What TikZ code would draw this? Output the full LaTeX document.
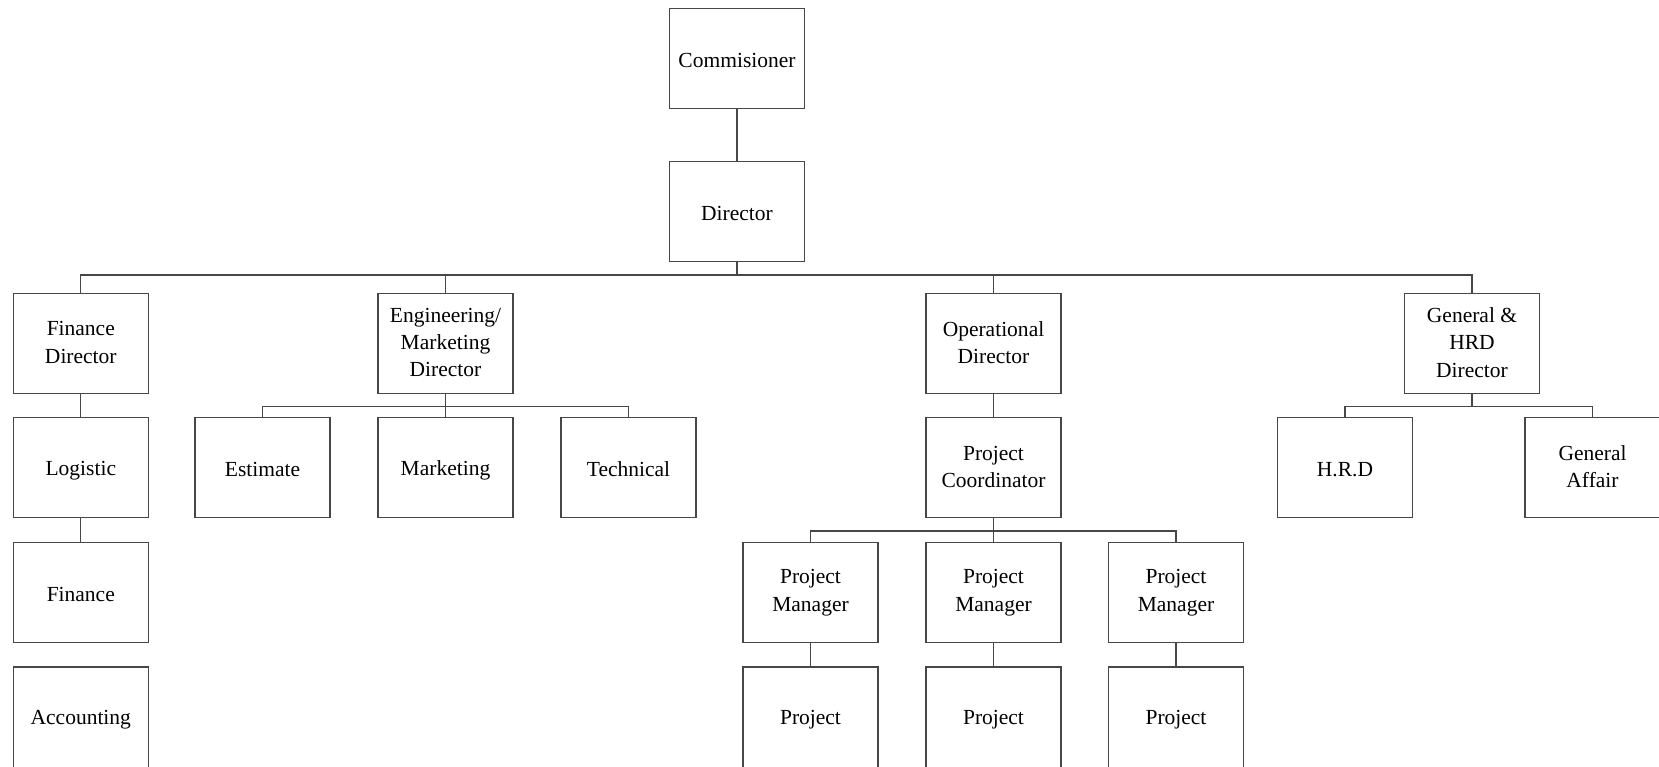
\documentclass[tikz,border=0pt]{standalone}
\usepackage{fontspec}
\setmainfont{Liberation Serif}
\begin{document}
\begin{tikzpicture}[x=1pt,y=-1pt,
  lbl/.style={inner sep=0pt, align=center, font=\fontsize{21.5}{27.3}\selectfont,
    execute at begin node=\rule{0pt}{20pt}, execute at end node=\rule[-2pt]{0pt}{2pt}},
  orgbox/.style={lbl, draw=black!72, line width=1.1pt, minimum width=135pt, minimum height=100pt, fill=white},
  lowbox/.style={orgbox, minimum height=106pt},
  link/.style={draw=black!72, line width=1.1pt}]
\useasboundingbox (0,0) rectangle (1659,766);
\clip (0,0) rectangle (1659,766);

% top of the hierarchy
\node[orgbox] (com) at (737,58.3) {Commisioner};
\node[orgbox] (dir) at (737,211.7) {Director};

% directors
\node[orgbox] (fd)  at (80.8,343.3)  {Finance\\Director};
\node[orgbox] (emd) at (445.5,343.3) {Engineering/\\Marketing\\Director};
\node[orgbox] (opd) at (993.5,343.3) {Operational\\Director};
\node[orgbox] (ghd) at (1472,343.3)  {General \&\\HRD\\Director};

% departments
\node[orgbox] (log) at (80.8,467.7)  {Logistic};
\node[orgbox] (est) at (262.5,467.7) {Estimate};
\node[orgbox] (mkt) at (445.5,467.7) {Marketing};
\node[orgbox] (tec) at (628.5,467.7) {Technical};
\node[orgbox] (pc)  at (993.5,467.7) {Project\\Coordinator};
\node[orgbox] (hrd) at (1345,467.7)  {H.R.D};
\node[orgbox] (ga)  at (1592.5,467.7) {General\\Affair};

\node[orgbox] (fin) at (80.8,592.7) {Finance};
\node[orgbox] (pm1) at (810.5,592.7) {Project\\Manager};
\node[orgbox] (pm2) at (993.5,592.7) {Project\\Manager};
\node[orgbox] (pm3) at (1176,592.7)  {Project\\Manager};

% bottom row runs past the lower edge
\node[lowbox] (acc) at (80.8,720) {};
\node[lowbox] (pj1) at (810.5,720) {};
\node[lowbox] (pj2) at (993.5,720) {};
\node[lowbox] (pj3) at (1176,720)  {};
\node[lbl] (acct) at (80.8,717)  {Accounting};
\node[lbl] (pj1t) at (810.5,717) {Project};
\node[lbl] (pj2t) at (993.5,717) {Project};
\node[lbl] (pj3t) at (1176,717)  {Project};

% bus levels
\coordinate (busA) at (0,275);
\coordinate (busB) at (0,406.5);
\coordinate (busC) at (0,531);

% single links
\draw[link] (com.south) -- (dir.north);
\draw[link] (fd.south) -- (log.north);
\draw[link] (log.south) -- (fin.north);
\draw[link] (opd.south) -- (pc.north);
\draw[link] (pm1.south) -- (pj1.north);
\draw[link] (pm2.south) -- (pj2.north);
\draw[link] (pm3.south) -- (pj3.north);

% director to the four directors
\draw[link] (dir.south) -- (dir.south |- busA);
\draw[link] (fd.north) |- (busA -| ghd.north) -- (ghd.north);
\draw[link] (emd.north) -- (emd.north |- busA);
\draw[link] (opd.north) -- (opd.north |- busA);

% engineering / marketing departments
\draw[link] (emd.south) -- (mkt.north);
\draw[link] (est.north) |- (busB -| tec.north) -- (tec.north);

% general & HRD departments
\draw[link] (ghd.south) -- (ghd.south |- busB);
\draw[link] (hrd.north) |- (busB -| ga.north) -- (ga.north);

% project coordinator to project managers
\draw[link] (pc.south) -- (pm2.north);
\draw[link] (pm1.north) |- (busC -| pm3.north) -- (pm3.north);
\end{tikzpicture}
\end{document}
